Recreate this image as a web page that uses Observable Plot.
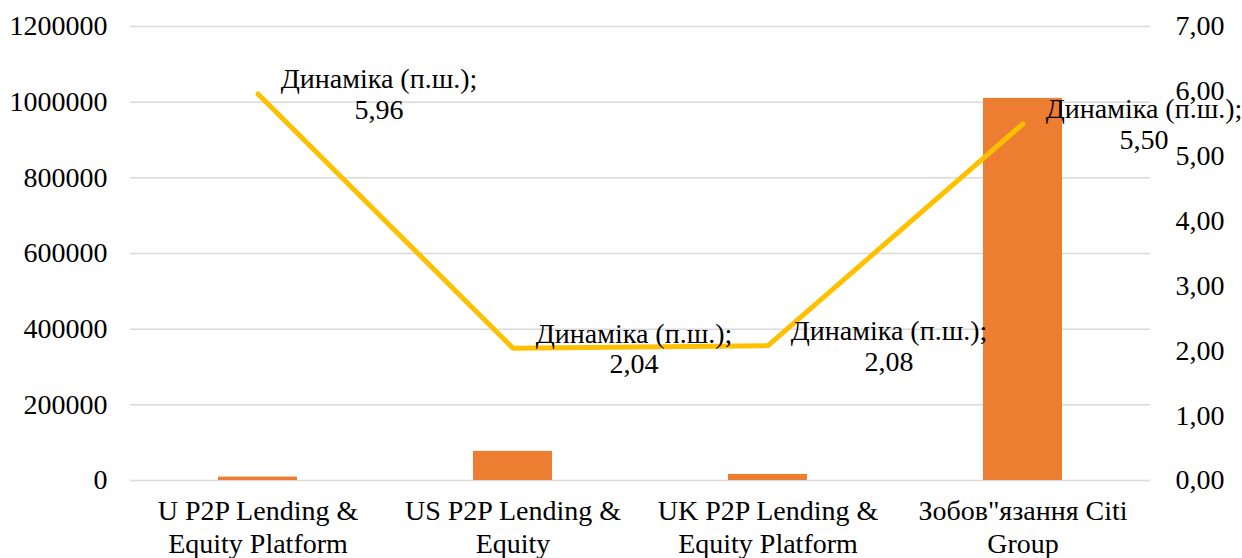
<!DOCTYPE html>
<html>
<head>
<meta charset="utf-8">
<script src="https://cdn.jsdelivr.net/npm/d3@7"></script>
<script src="https://cdn.jsdelivr.net/npm/@observablehq/plot@0.6"></script>
<style>
  html, body { margin: 0; padding: 0; background: #fff; }
  #chart { width: 1242px; height: 558px; overflow: hidden; }
  #chart svg, #chart svg text { font-family: "Liberation Serif", "Times New Roman", serif !important; }
</style>
</head>
<body>
<div id="chart"></div>
<script>
const categories = [
  "U P2P Lending & Equity Platform",
  "US P2P Lending & Equity",
  "UK P2P Lending & Equity Platform",
  "Зобов\"язання Citi Group"
];
const categoryLabels = [
  "U P2P Lending &\nEquity Platform",
  "US P2P Lending &\nEquity",
  "UK P2P Lending &\nEquity Platform",
  "Зобов\"язання Citi\nGroup"
];
const barValues = [9000, 77000, 16000, 1010000];
const dynamics = [5.96, 2.04, 2.08, 5.50];
const seriesName = "Динаміка (п.ш.)";
const leftTicks = [0, 200000, 400000, 600000, 800000, 1000000, 1200000];
const rightTicks = [0, 1, 2, 3, 4, 5, 6, 7];

const leftMax = 1200000, rightMax = 7;
const k = leftMax / rightMax;
const fmt2 = v => v.toFixed(2).replace(".", ",");

const data = categories.map((c, i) => ({cat: c, value: barValues[i], dyn: dynamics[i]}));

const chart = Plot.plot({
  width: 1242,
  height: 558,
  marginLeft: 130,
  marginRight: 92,
  marginTop: 26,
  marginBottom: 78,
  style: {fontFamily: "Liberation Serif, serif", fontSize: "28px", color: "#000", background: "#fff"},
  x: {domain: categories, padding: 0, axis: null},
  y: {domain: [0, leftMax], axis: null},
  marks: [
    Plot.ruleY(leftTicks, {stroke: "#d9d9d9", strokeWidth: 1.5}),
    Plot.axisY(leftTicks, {anchor: "left", tickSize: 0, tickPadding: 23, tickFormat: d => String(d), label: null}),
    Plot.axisY(rightTicks.map(t => t * k), {anchor: "right", tickSize: 0, tickPadding: 25, tickFormat: d => fmt2(d / k), label: null}),
    Plot.axisX(categories, {anchor: "bottom", tickSize: 0, tickPadding: 16, lineHeight: 1.18, tickFormat: d => categoryLabels[categories.indexOf(d)], label: null}),
    Plot.barY(data, {x: "cat", y: "value", fill: "#ED7D31", insetLeft: 88, insetRight: 88}),
    Plot.line(data, {x: "cat", y: d => d.dyn * k, stroke: "#FFC000", strokeWidth: 5}),
    Plot.text(data, {x: "cat", y: d => d.dyn * k, text: d => seriesName + ";\n" + fmt2(d.dyn), dx: 121, lineHeight: 1.1, fill: "#000"})
  ]
});
document.getElementById("chart").appendChild(chart);
</script>
</body>
</html>
